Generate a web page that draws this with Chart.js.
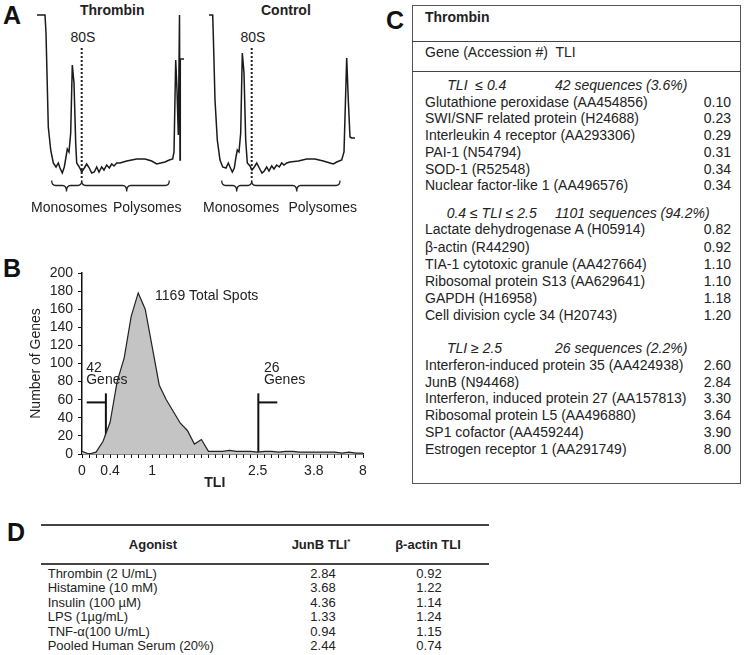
<!DOCTYPE html>
<html><head><meta charset="utf-8">
<script src="https://cdn.jsdelivr.net/npm/chart.js@4/dist/chart.umd.min.js"></script>
<style>
html,body{margin:0;padding:0;background:#fff;}
#fig{position:relative;width:750px;height:655px;overflow:hidden;font-family:"Liberation Sans",Arial,sans-serif;color:#222;}
.abs{position:absolute;white-space:pre;}
.plab{position:absolute;font-weight:bold;font-size:25px;line-height:26px;color:#111;}
canvas{position:absolute;}
.t14{font-size:14px;line-height:16px;}
.t13{font-size:13px;line-height:14px;}
.hr{position:absolute;background:#444;}
</style></head>
<body>
<div id="fig">
  <div class="plab" style="left:3px;top:2px;">A</div>
  <div class="plab" style="left:3px;top:255px;">B</div>
  <div class="plab" style="left:386px;top:7px;">C</div>
  <div class="plab" style="left:7px;top:519px;">D</div>

  <!-- Panel A -->
  <div class="abs t14" style="left:80px;top:2px;font-weight:bold;">Thrombin</div>
  <div class="abs t14" style="left:261px;top:2px;font-weight:bold;">Control</div>
  <div class="abs t14" style="left:70.5px;top:29px;">80S</div>
  <div class="abs t14" style="left:240.5px;top:29px;">80S</div>
  <canvas id="profT" width="160" height="200" style="left:30px;top:0px;"></canvas>
  <canvas id="profC" width="160" height="200" style="left:200px;top:0px;"></canvas>
  <svg style="position:absolute;left:0;top:0" width="380" height="200">
    <g fill="none" stroke="#222" stroke-width="1.3" id="braces"></g>
  </svg>
  <div class="abs t14" style="left:31px;top:199px;">Monosomes</div>
  <div class="abs t14" style="left:113px;top:199px;">Polysomes</div>
  <div class="abs t14" style="left:203px;top:199px;">Monosomes</div>
  <div class="abs t14" style="left:288.5px;top:199px;">Polysomes</div>

  <!-- Panel B -->
  <canvas id="chartB" width="375" height="250" style="left:0px;top:250px;"></canvas>

  <!-- Panel C -->
  <div id="boxC" style="position:absolute;left:411.5px;top:5px;width:329px;height:479px;border:1px solid #555;box-sizing:border-box;"></div>
  <div class="hr" style="left:411.5px;top:41px;width:329px;height:1px;"></div>
  <div class="hr" style="left:411.5px;top:70.5px;width:329px;height:1px;"></div>
  <div class="abs t14" style="left:425px;top:8.5px;font-weight:bold;">Thrombin</div>
  <div class="abs t14" style="left:425px;top:43.5px;">Gene (Accession #)  TLI</div>
  <div id="tableC"></div>

  <!-- Panel D -->
  <div class="hr" style="left:40.5px;top:524px;width:448px;height:1.5px;"></div>
  <div class="hr" style="left:40.5px;top:563px;width:448px;height:1.5px;"></div>
  <div id="tableD"></div>
</div>

<script>
// ---------------- DATA ----------------
// Panel A: polysome profiles, [position along gradient, absorbance]
const thrombinProfile = [[0,170],[8,170],[9,152],[11.3,58],[13.7,35],[16.3,22],[19,18],[21.3,22],[23,17],[25.3,12],[27.3,18],[29,28],[30.3,36],[32,33],[33.7,52],[35.3,120],[37,102],[38.7,42],[39.7,22],[42.3,18],[44.7,13],[47.3,17],[49.7,21],[52.3,17],[54.7,12],[57.3,13],[59.7,18],[62,13],[64.7,18],[67,15],[69.7,20],[72.3,17],[74.7,21],[77,19],[79.7,22],[83,22],[89.7,24],[99.7,26],[108,26],[114.7,24],[119.7,21],[123.7,22],[128,23],[132.3,25],[135.7,26],[137,33],[138.7,125],[140,95],[141.3,50],[142.5,170],[143,25],[143.3,126],[147,126]];
const controlProfile = [[0,170],[3.7,170],[4.3,150],[6,85],[8.3,45],[11,25],[13.7,18],[17,17],[19.3,22],[21,18],[23.3,13],[25.3,17],[27,28],[28.3,35],[30,33],[31.7,52],[33.3,132],[35,112],[36.7,45],[38.3,22],[41,19],[43,15],[45.3,18],[47.7,22],[50.3,17],[53,12],[55.3,14],[57.7,18],[60,14],[62.7,19],[65,16],[67.7,20],[70.3,18],[72.7,22],[75,20],[77.7,22],[81,23],[89.3,24],[97.7,26],[106,26],[114.3,24],[121,22],[124.3,21],[127.7,23],[132.7,25],[135,33],[137.7,127],[139.3,85],[141,48],[142.7,47],[146,47]];
const peak80S = { thrombin: 44.7, control: 42.7 };

// Panel B: TLI histogram
const tliTickLabels = ['0','','','','0.4','','','','','','1','','','','','','','','','','','','','','','2.5','','','','','','','','3.8','','','','','','','8'];
const geneCounts = [3,0,2,14,35,80,106,152,178,160,118,76,60,47,34,26,11,16,3,3,3,4,3,3,3,2,3,3,2,3,3,2,2,2,2,2,2,1,2,1,1];
const totalSpots = 1169;
const lowGenes = 42;
const highGenes = 26;
const yTicksMax = 200;

// Panel C table
const groupLabels = ['TLI  \u2264 0.4', '0.4 \u2264 TLI \u2264 2.5', 'TLI \u2265 2.5'];
const groupCounts = ['42 sequences (3.6%)', '1101 sequences (94.2%)', '26 sequences (2.2%)'];
const genesLow = ['Glutathione peroxidase (AA454856)','SWI/SNF related protein (H24688)','Interleukin 4 receptor (AA293306)','PAI-1 (N54794)','SOD-1 (R52548)','Nuclear factor-like 1 (AA496576)'];
const tliLow = ['0.10','0.23','0.29','0.31','0.34','0.34'];
const genesMid = ['Lactate dehydrogenase A (H05914)','\u03b2-actin (R44290)','TIA-1 cytotoxic granule (AA427664)','Ribosomal protein S13 (AA629641)','GAPDH (H16958)','Cell division cycle 34 (H20743)'];
const tliMid = ['0.82','0.92','1.10','1.10','1.18','1.20'];
const genesHigh = ['Interferon-induced protein 35 (AA424938)','JunB (N94468)','Interferon, induced protein 27 (AA157813)','Ribosomal protein L5 (AA496880)','SP1 cofactor (AA459244)','Estrogen receptor 1 (AA291749)'];
const tliHigh = ['2.60','2.84','3.30','3.64','3.90','8.00'];

// Panel D table
const agonists = ['Thrombin (2 U/mL)','Histamine (10 mM)','Insulin (100 \u00b5M)','LPS (1\u00b5g/mL)','TNF-\u03b1(100 U/mL)','Pooled Human Serum (20%)'];
const junbTLI = ['2.84','3.68','4.36','1.33','0.94','2.44'];
const actinTLI = ['0.92','1.22','1.14','1.24','1.15','0.74'];

// ---------------- PANEL A ----------------
function profileChart(id, pts, dashX, xmin, xmax) {
  new Chart(document.getElementById(id), {
    type: 'line',
    data: { datasets: [
      { data: pts.map(p => ({x: p[0], y: p[1]})), borderColor: '#1a1a1a', borderWidth: 1.5, pointRadius: 0, tension: 0, fill: false },
      { data: [{x: dashX, y: 7}, {x: dashX, y: 137}], borderColor: '#222', borderWidth: 2, borderDash: [2, 2], pointRadius: 0, fill: false }
    ]},
    options: {
      responsive: false, animation: false, devicePixelRatio: 1,
      layout: { padding: 0 },
      plugins: { legend: { display: false }, tooltip: { enabled: false } },
      scales: {
        x: { type: 'linear', display: false, min: xmin, max: xmax },
        y: { type: 'linear', display: false, min: -15, max: 185 }
      }
    }
  });
}
profileChart('profT', thrombinProfile, peak80S.thrombin, -7, 153);
profileChart('profC', controlProfile, peak80S.control, -9, 151);

// braces under the profiles
(function(){
  const g = document.getElementById('braces');
  function brace(x1, x2, xm, y0) {
    const d = `M${x1} ${y0} Q${x1} ${y0+5} ${x1+4} ${y0+5} L${xm-4} ${y0+5} Q${xm} ${y0+5} ${xm} ${y0+11} Q${xm} ${y0+5} ${xm+4} ${y0+5} L${x2-4} ${y0+5} Q${x2} ${y0+5} ${x2} ${y0}`;
    const p = document.createElementNS('http://www.w3.org/2000/svg', 'path');
    p.setAttribute('d', d); g.appendChild(p);
  }
  brace(51.7, 81.7, 66.5, 180.5);
  brace(81.7, 169.3, 126.7, 180.5);
  brace(221.7, 251.7, 236.7, 180.5);
  brace(251.7, 340, 296.7, 180.5);
})();

// ---------------- PANEL B ----------------
const FONT = '"Liberation Sans", Arial, sans-serif';
const notesPlugin = {
  id: 'notes',
  afterDatasetsDraw(chart) {
    const {ctx, scales: {x, y}} = chart;
    ctx.save();
    ctx.fillStyle = '#222';
    ctx.font = '14px ' + FONT;
    ctx.textAlign = 'left';
    ctx.textBaseline = 'middle';
    ctx.fillText(totalSpots + ' Total Spots', x.getPixelForValue(10.4), y.getPixelForValue(174.6));
    ctx.fillText(String(lowGenes), x.getPixelForValue(0.6), y.getPixelForValue(95));
    ctx.fillText('Genes', x.getPixelForValue(0.6), y.getPixelForValue(81.5));
    ctx.fillText(String(highGenes), x.getPixelForValue(25.9), y.getPixelForValue(95));
    ctx.fillText('Genes', x.getPixelForValue(25.9), y.getPixelForValue(81.5));
    ctx.font = 'bold 14px ' + FONT;
    ctx.textAlign = 'center';
    ctx.fillText('TLI', x.getPixelForValue(18.9), y.bottom + 29);
    ctx.restore();
  }
};

const markerStyle = { borderColor: '#111', borderWidth: 2, pointRadius: 0, fill: false, tension: 0 };
new Chart(document.getElementById('chartB'), {
  type: 'line',
  data: { datasets: [
    { data: geneCounts.map((v, i) => ({x: i, y: v})), borderColor: '#222', borderWidth: 1.2, backgroundColor: '#c4c4c4', fill: 'origin', pointRadius: 0, tension: 0 },
    Object.assign({ data: [{x: 3.4, y: 0}, {x: 3.4, y: 67}] }, markerStyle),
    Object.assign({ data: [{x: 0.67, y: 57}, {x: 3.4, y: 57}] }, markerStyle),
    Object.assign({ data: [{x: 25.1, y: 0}, {x: 25.1, y: 67}] }, markerStyle),
    Object.assign({ data: [{x: 25.1, y: 57}, {x: 27.8, y: 57}] }, markerStyle)
  ]},
  options: {
    responsive: false, animation: false, devicePixelRatio: 1,
    layout: { padding: { top: 23, right: 12, left: 0, bottom: 0 } },
    plugins: { legend: { display: false }, tooltip: { enabled: false } },
    scales: {
      x: {
        type: 'linear', min: 0, max: tliTickLabels.length - 1,
        afterFit(s) { s.height = 46; },
        border: { display: true, color: '#111', width: 1.5 },
        grid: { drawOnChartArea: false, drawTicks: true, tickLength: 4, color: '#111', lineWidth: 1 },
        ticks: { stepSize: 1, autoSkip: false, maxRotation: 0, minRotation: 0, padding: 5, color: '#222',
          font: { family: FONT, size: 14 }, callback: v => (tliTickLabels[v] !== undefined ? tliTickLabels[v] : '') }
      },
      y: {
        type: 'linear', min: 0, max: yTicksMax,
        afterFit(s) { s.width = 82; },
        border: { display: true, color: '#111', width: 1.5 },
        grid: { drawOnChartArea: false, drawTicks: true, tickLength: 4, color: '#111', lineWidth: 1 },
        ticks: { stepSize: 20, autoSkip: false, padding: 5, color: '#222', font: { family: FONT, size: 14 } },
        title: { display: true, text: 'Number of Genes', color: '#222', font: { family: FONT, size: 14 }, padding: { top: 28, bottom: 0 } }
      }
    }
  },
  plugins: [notesPlugin]
});

// ---------------- PANEL C ----------------
(function(){
  const host = document.getElementById('tableC');
  const groups = [
    { label: groupLabels[0], count: groupCounts[0], genes: genesLow, tli: tliLow, y: 85, lx: 447.3 },
    { label: groupLabels[1], count: groupCounts[1], genes: genesMid, tli: tliMid, y: 212.7, lx: 446.7 },
    { label: groupLabels[2], count: groupCounts[2], genes: genesHigh, tli: tliHigh, y: 348.3, lx: 447 }
  ];
  let html = '';
  groups.forEach((g, gi) => {
    html += `<div class="abs t14" style="left:${g.lx}px;top:${g.y - 8}px;font-style:italic;">${g.label}</div>`;
    html += `<div class="abs t14" style="left:555px;top:${g.y - 8}px;font-style:italic;">${g.count}</div>`;
    const step = gi === 1 ? 17.1 : 16.7;
    g.genes.forEach((name, i) => {
      const cy = g.y + 16.7 + i * step;
      html += `<div class="abs t14" style="left:425px;top:${cy - 8}px;">${name}</div>`;
      html += `<div class="abs t14" style="left:631px;width:100px;text-align:right;top:${cy - 8}px;">${g.tli[i]}</div>`;
    });
  });
  host.innerHTML = html;
})();

// ---------------- PANEL D ----------------
(function(){
  const host = document.getElementById('tableD');
  const hy = 545;
  let html = '';
  html += `<div class="abs t13" style="left:103px;width:100px;text-align:center;top:${hy - 7}px;font-weight:bold;">Agonist</div>`;
  html += `<div class="abs t13" style="left:271px;width:100px;text-align:center;top:${hy - 7}px;font-weight:bold;">JunB TLI<sup style="font-size:8px;line-height:0;">*</sup></div>`;
  html += `<div class="abs t13" style="left:378px;width:100px;text-align:center;top:${hy - 7}px;font-weight:bold;">\u03b2-actin TLI</div>`;
  agonists.forEach((a, i) => {
    const cy = 574 + i * 14.4;
    html += `<div class="abs t13" style="left:47.7px;top:${cy - 7}px;">${a}</div>`;
    html += `<div class="abs t13" style="left:273px;width:100px;text-align:center;top:${cy - 7}px;">${junbTLI[i]}</div>`;
    html += `<div class="abs t13" style="left:379px;width:100px;text-align:center;top:${cy - 7}px;">${actinTLI[i]}</div>`;
  });
  host.innerHTML = html;
})();
</script>
</body></html>
